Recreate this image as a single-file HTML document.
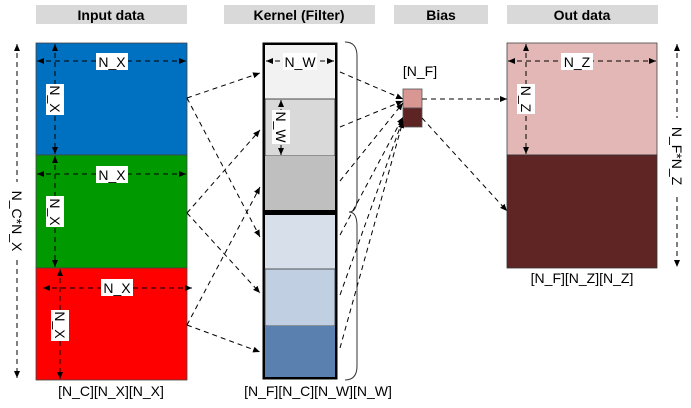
<!DOCTYPE html>
<html><head><meta charset="utf-8"><style>
html,body{margin:0;padding:0;background:#fff;}
svg{display:block;font-family:"Liberation Sans",Arial,sans-serif;}
</style></head><body>
<svg width="691" height="408" viewBox="0 0 691 408" xmlns="http://www.w3.org/2000/svg">
<defs>
<marker id="a" markerWidth="8" markerHeight="8" refX="7" refY="4" orient="auto" markerUnits="userSpaceOnUse"><path d="M0,1 L7,4 L0,7 Z" fill="#000"/></marker>
</defs>
<!-- headers -->
<g font-size="14" font-weight="bold" text-anchor="middle">
<rect x="36" y="5" width="151" height="19" fill="#d9d9d9"/><text x="111" y="20">Input data</text>
<rect x="224" y="5" width="151" height="19" fill="#d9d9d9"/><text x="299" y="20">Kernel (Filter)</text>
<rect x="394" y="5" width="94" height="19" fill="#d9d9d9"/><text x="441" y="20">Bias</text>
<rect x="507" y="5" width="151" height="19" fill="#d9d9d9"/><text x="582" y="20">Out data</text>
</g>
<!-- input -->
<rect x="36" y="43" width="151" height="112" fill="#0070c0" stroke="#444" stroke-width="0.8"/>
<rect x="36" y="155" width="151" height="113" fill="#009900" stroke="#444" stroke-width="0.8"/>
<rect x="36" y="268" width="151" height="112" fill="#ff0000" stroke="#444" stroke-width="0.8"/>
<!-- kernel -->
<rect x="262.5" y="42.5" width="75" height="337" fill="#000"/>
<rect x="265" y="45" width="70" height="54" fill="#f2f2f2"/>
<rect x="265" y="99" width="70" height="57" fill="#d9d9d9" stroke="#222" stroke-width="0.8"/>
<rect x="265" y="156" width="70" height="54" fill="#bfbfbf"/>
<rect x="265" y="215" width="70" height="54" fill="#d6dfea"/>
<rect x="265" y="269" width="70" height="57" fill="#c0cfe1" stroke="#333" stroke-width="0.8"/>
<rect x="265" y="326" width="70" height="51" fill="#5a80b0"/>
<!-- braces -->
<path d="M345,42 Q357,42 357,56 L357,198 Q357,212 349,212 Q357,212 357,226 L357,366 Q357,380 345,380" fill="none" stroke="#333" stroke-width="1"/>
<!-- bias -->
<rect x="403" y="89" width="19" height="19" fill="#d99794" stroke="#555" stroke-width="0.8"/>
<rect x="403" y="108" width="19" height="19" fill="#5e2424" stroke="#555" stroke-width="0.8"/>
<text x="420" y="76" font-size="14" text-anchor="middle">[N_F]</text>
<!-- out -->
<rect x="507" y="43" width="150" height="112" fill="#e2b7b5" stroke="#444" stroke-width="0.8"/>
<rect x="507" y="155" width="150" height="113" fill="#5f2424" stroke="#333" stroke-width="0.8"/>
<!-- connectors -->
<g stroke="#000" stroke-width="1" stroke-dasharray="5,4" fill="none" marker-end="url(#a)">
<line x1="187" y1="98" x2="260" y2="73"/>
<line x1="187" y1="98" x2="260" y2="237"/>
<line x1="187" y1="213" x2="260" y2="130"/>
<line x1="187" y1="213" x2="260" y2="293"/>
<line x1="187" y1="325" x2="260" y2="187"/>
<line x1="187" y1="325" x2="260" y2="352"/>
<line x1="340" y1="72" x2="403" y2="99"/>
<line x1="340" y1="127" x2="403" y2="101"/>
<line x1="340" y1="181" x2="403" y2="103"/>
<line x1="340" y1="235" x2="403" y2="117"/>
<line x1="340" y1="295" x2="403" y2="119"/>
<line x1="340" y1="348" x2="403" y2="121"/>
<line x1="422" y1="99" x2="507" y2="99"/>
<line x1="422" y1="118" x2="507" y2="211"/>
</g>
<!-- dimension arrows -->
<g stroke="#000" stroke-width="1" stroke-dasharray="5,4" fill="none" marker-end="url(#a)" marker-start="url(#a)">
</g>
<defs><marker id="b" markerWidth="8" markerHeight="8" refX="0" refY="4" orient="auto" markerUnits="userSpaceOnUse"><path d="M7,1 L0,4 L7,7 Z" fill="#000"/></marker></defs>
<g stroke="#000" stroke-width="1" stroke-dasharray="5,4" fill="none" marker-end="url(#a)" marker-start="url(#b)">
<line x1="37" y1="61" x2="186" y2="61"/>
<line x1="55" y1="44" x2="55" y2="154"/>
<line x1="37" y1="174" x2="186" y2="174"/>
<line x1="55" y1="156" x2="55" y2="267"/>
<line x1="43" y1="288" x2="192" y2="288"/>
<line x1="60" y1="269" x2="60" y2="379"/>
<line x1="266" y1="61" x2="334" y2="61"/>
<line x1="281" y1="100" x2="281" y2="155"/>
<line x1="508" y1="61" x2="656" y2="61"/>
<line x1="526" y1="44" x2="526" y2="154"/>
<line x1="17" y1="44" x2="17" y2="378"/>
<line x1="677" y1="44" x2="677" y2="267"/>
</g>
<!-- labels -->
<g font-size="14" text-anchor="middle">
<rect x="96" y="53" width="32" height="17" fill="#fff"/><text x="112" y="67">N_X</text>
<rect x="96" y="166" width="32" height="17" fill="#fff"/><text x="112" y="180">N_X</text>
<rect x="101" y="279" width="32" height="17" fill="#fff"/><text x="117" y="293">N_X</text>
<rect x="283" y="53" width="34" height="17" fill="#fff"/><text x="300" y="67">N_W</text>
<rect x="561" y="53" width="32" height="17" fill="#fff"/><text x="577" y="67">N_Z</text>
<rect x="46" y="84" width="18" height="31" fill="#fff"/><text transform="translate(50,99) rotate(90)">N_X</text>
<rect x="46" y="196" width="18" height="31" fill="#fff"/><text transform="translate(50,212) rotate(90)">N_X</text>
<rect x="51" y="310" width="18" height="31" fill="#fff"/><text transform="translate(55,325) rotate(90)">N_X</text>
<rect x="272" y="110" width="18" height="34" fill="#fff"/><text transform="translate(276,127) rotate(90)">N_W</text>
<rect x="517" y="84" width="18" height="30" fill="#fff"/><text transform="translate(521,99) rotate(90)">N_Z</text>
<rect x="8" y="182" width="18" height="78" fill="#fff"/><text transform="translate(12,221) rotate(90)">N_C*N_X</text>
<rect x="668" y="118" width="18" height="76" fill="#fff"/><text transform="translate(672,156) rotate(90)">N_F*N_Z</text>
<text x="111" y="396">[N_C][N_X][N_X]</text>
<text x="318" y="396">[N_F][N_C][N_W][N_W]</text>
<text x="582" y="283">[N_F][N_Z][N_Z]</text>
</g>
</svg>
</body></html>
